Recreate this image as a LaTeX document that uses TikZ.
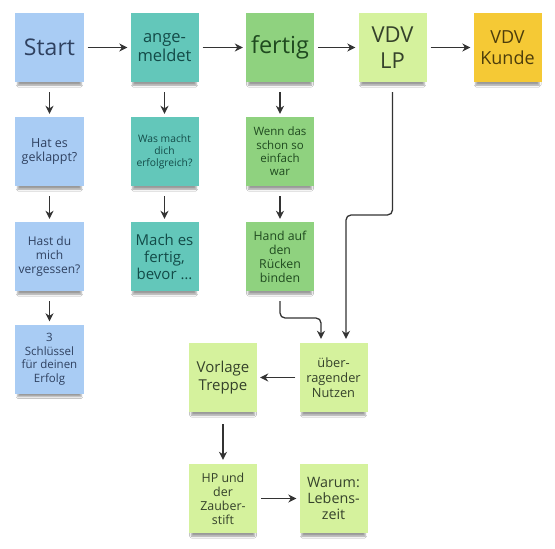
\documentclass[tikz,border=0pt]{standalone}
\usepackage{fontspec}
\setmainfont{Open Sans}
\usetikzlibrary{arrows.meta,positioning,shadows.blur}
\definecolor{ink}{HTML}{333333}
\definecolor{sky}{HTML}{A9CCF4}
\definecolor{skyink}{HTML}{2F4160}
\definecolor{teal}{HTML}{63C7BA}
\definecolor{tealink}{HTML}{134B48}
\definecolor{leaf}{HTML}{8FD27F}
\definecolor{leafink}{HTML}{1F4A1F}
\definecolor{lime}{HTML}{D5F29D}
\definecolor{limeink}{HTML}{35422B}
\definecolor{gold}{HTML}{F5C935}
\definecolor{goldink}{HTML}{4D3D0C}
\newcommand{\notesize}[2]{\fontsize{#1bp}{#2bp}\selectfont}
\tikzset{note/.style={minimum width=68bp,minimum height=69bp,inner sep=2bp,align=center,blur shadow={shadow xshift=0bp,shadow yshift=-6bp,shadow opacity=40,shadow blur radius=2bp,shadow scale=.93}},bluenote/.style={note,fill=sky,text=skyink},tealnote/.style={note,fill=teal,text=tealink},leafnote/.style={note,fill=leaf,text=leafink},limenote/.style={note,fill=lime,text=limeink},goldnote/.style={note,fill=gold,text=goldink},flow/.style={draw=ink,line width=1.3bp,-{Stealth[length=8bp,width=8bp]}}}

\begin{document}
\begin{tikzpicture}[x=1bp,y=-1bp]
\useasboundingbox[fill=white] (0,0) rectangle (555,549);
% Kopfzeile
\node[bluenote,font=\notesize{23}{27}] (start) at (49.5,47.5) {Start};
\node[tealnote,font=\notesize{16.5}{19}] (angemeldet) at (164.5,47.5) {ange-\\meldet};
\node[leafnote,font=\notesize{23.5}{27}] (fertig) at (280,47.5) {fertig};
\node[limenote,font=\notesize{22}{26}] (vdvlp) at (392.5,47.5) {VDV\\LP};
\node[goldnote,font=\notesize{18}{21}] (kunde) at (507.5,47.5) {VDV\\Kunde};
% Spalten darunter
\node[bluenote,font=\notesize{12.5}{14.5}] (geklappt) at (49.5,151.5) {Hat es\\geklappt?};
\node[bluenote,font=\notesize{12}{14}] (vergessen) at (49.5,256.5) {Hast du\\mich\\vergessen?};
\node[bluenote,font=\notesize{11.5}{13.5}] (schluessel) at (49.5,359) {3\\Schlüssel\\für deinen\\Erfolg};
\node[tealnote,font=\notesize{10.3}{12}] (erfolgreich) at (164.5,151.5) {Was macht\\dich\\erfolgreich?};
\node[tealnote,font=\notesize{15}{17}] (bevor) at (164.5,256.5) {Mach es\\fertig,\\bevor \dots};
\node[leafnote,font=\notesize{11.5}{13.3}] (einfach) at (280,151.5) {Wenn das\\schon so\\einfach\\war};
\node[leafnote,font=\notesize{12.3}{14}] (ruecken) at (280,256.5) {Hand auf\\den\\Rücken\\binden};
% untere Gruppe
\node[limenote,font=\notesize{12.8}{15}] (nutzen) at (333.5,377.5) {über-\\ragender\\Nutzen};
\node[limenote,font=\notesize{15}{17.7}] (treppe) at (223,377.5) {Vorlage\\Treppe};
\node[limenote,font=\notesize{12.4}{14}] (zauber) at (223,498.5) {HP und\\der\\Zauber-\\stift};
\node[limenote,font=\notesize{14.3}{16}] (lebenszeit) at (333.5,498.5) {Warum:\\Lebens-\\zeit};
% Pfeile
\draw[flow,shorten <=4bp,shorten >=3bp] (start) -- (angemeldet);
\draw[flow,shorten <=4bp,shorten >=3bp] (angemeldet) -- (fertig);
\draw[flow,shorten <=4bp,shorten >=3bp] (fertig) -- (vdvlp);
\draw[flow,shorten <=4bp,shorten >=3bp] (vdvlp) -- (kunde);
\draw[flow,shorten <=10bp,shorten >=3bp] (start) -- (geklappt);
\draw[flow,shorten <=10bp,shorten >=3bp] (geklappt) -- (vergessen);
\draw[flow,shorten <=10bp,shorten >=3bp] (vergessen) -- (schluessel);
\draw[flow,shorten <=10bp,shorten >=3bp] (angemeldet) -- (erfolgreich);
\draw[flow,shorten <=10bp,shorten >=3bp] (erfolgreich) -- (bevor);
\draw[flow,shorten <=10bp,shorten >=3bp] (fertig) -- (einfach);
\draw[flow,shorten <=10bp,shorten >=3bp] (einfach) -- (ruecken);
\draw[flow,rounded corners=5bp,shorten <=10bp,shorten >=4bp] (vdvlp.south) |- ([xshift=12.5bp]nutzen.north |- 0,215) -- ([xshift=12.5bp]nutzen.north);
\draw[flow,rounded corners=5bp,shorten <=10bp,shorten >=4bp] (ruecken.south) |- ([xshift=-12.5bp]nutzen.north |- 0,318) -- ([xshift=-12.5bp]nutzen.north);
\draw[flow,shorten <=4bp,shorten >=3bp] (nutzen) -- (treppe);
\draw[flow,shorten <=12bp,shorten >=4bp] (treppe) -- (zauber);
\draw[flow,shorten <=4bp,shorten >=3bp] (zauber) -- (lebenszeit);
\end{tikzpicture}
\end{document}
